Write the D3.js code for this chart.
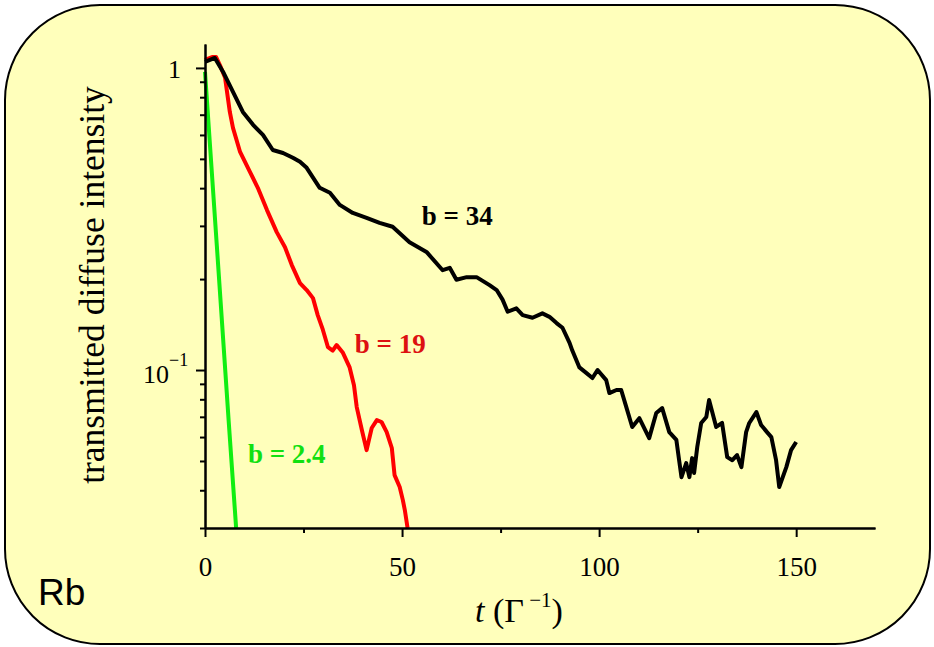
<!DOCTYPE html>
<html>
<head>
<meta charset="utf-8">
<script src="https://cdn.jsdelivr.net/npm/d3@7"></script>
<style>
    body { margin: 0; background: #ffffff; }
    svg { display: block; }
</style>
</head>
<body>
<script>
    // Series values (t in units of 1/Gamma)
    var tBlack = [0, 2.5, 4.6, 7.1, 9.6, 12.2, 14.7, 17.2, 19.8, 22.3, 24.1, 25.8, 29.1, 31.7, 34.2, 37.5, 41.0, 44.3, 47.6, 51.9,
        56.2, 60.3, 62.1, 63.8, 66.4, 68.9, 72.2, 74.0, 75.5, 76.8, 79.0, 80.6, 83.1, 85.6, 87.4, 89.2, 90.7, 92.5, 93.2, 95.0,
        96.8, 98.3, 99.6, 101.8, 102.6, 104.4, 105.6, 106.9, 108.4, 110.2, 112.7, 114.5, 116.0, 117.8, 119.6, 120.3, 120.9, 122.1,
        122.9, 123.6, 124.1, 124.9, 125.9, 127.2, 127.9, 128.7, 129.7, 131.2, 132.5, 133.8, 135.0, 136.1, 137.3, 138.1, 139.9,
        141.1, 142.6, 143.7, 144.9, 145.7, 147.5, 148.7, 150.0];
    var vBlack = [1.047, 1.079, 0.970, 0.833, 0.715, 0.648, 0.600, 0.535, 0.523, 0.504, 0.489, 0.467, 0.401, 0.386, 0.352, 0.331, 0.319, 0.307, 0.298, 0.265,
        0.246, 0.214, 0.218, 0.199, 0.203, 0.203, 0.191, 0.184, 0.171, 0.156, 0.160, 0.152, 0.149, 0.154, 0.150, 0.143, 0.138, 0.123, 0.116, 0.102,
        0.0977, 0.0941, 0.100, 0.0926, 0.0839, 0.0859, 0.0859, 0.0754, 0.0648, 0.0693, 0.0595, 0.0721, 0.0748, 0.0623, 0.0587, 0.0503, 0.0442, 0.0492,
        0.0442, 0.0511, 0.0456, 0.0556, 0.0668, 0.0699, 0.0796, 0.0726, 0.0648, 0.0668, 0.0515, 0.0503, 0.0523, 0.0477, 0.0623, 0.0668, 0.0726,
        0.0658, 0.0623, 0.0600, 0.0503, 0.0410, 0.0477, 0.0543, 0.0578];

    var tRed = [0, 1.8, 2.8, 3.8, 5.1, 6.3, 7.1, 8.9, 11.4, 13.4, 15.7, 18.2, 20.3, 22.0, 24.1, 25.8, 27.4, 28.6, 29.9, 31.2,
        32.4, 33.4, 35.0, 36.7, 37.8, 38.5, 39.8, 41.0, 42.3, 43.6, 44.8, 46.1, 47.4, 48.1, 49.4, 50.2, 50.7, 51.4];
    var vRed = [1.063, 1.087, 1.087, 1.02, 0.927, 0.715, 0.633, 0.527, 0.453, 0.401, 0.339, 0.286, 0.255, 0.223, 0.194, 0.184, 0.173, 0.152, 0.136, 0.119,
        0.116, 0.121, 0.114, 0.102, 0.089, 0.0754, 0.0633, 0.0543, 0.0643, 0.0683, 0.0673, 0.0623, 0.0552, 0.0449, 0.041, 0.0371, 0.0344, 0.030];

    var tGreen = [0, 3, 6, 7.9];
    var vGreen = [0.97, 0.258, 0.068, 0.030];

    var seriesNames = ['b = 34', 'b = 19', 'b = 2.4'];
    var seriesColors = ['#000000', '#ff0000', '#11ee11'];
    var labelColors = ['#000000', '#dd1111', '#11e011'];
    var labelPos = [[55.0, 0.302], [38.0, 0.1138], [10.9, 0.0492]]; // data coords of label start

    // Tick values
    var xMajor = [0, 50, 100, 150];
    var xMinor = [25, 75, 125];
    var yMajor = [1, 0.1];
    var yMinor = [0.9, 0.8, 0.7, 0.6, 0.5, 0.4, 0.3, 0.2, 0.09, 0.08, 0.07, 0.06, 0.05, 0.04, 0.03];

    var width = 934, height = 647;
    var x0 = 205, x1 = 875, yBottom = 528, yTop = 44;

    var svg = d3.select('body').append('svg')
        .attr('width', width)
        .attr('height', height);

    // Rounded panel
    svg.append('rect')
        .attr('x', 5).attr('y', 5)
        .attr('width', 925).attr('height', 639)
        .attr('rx', 95).attr('ry', 95)
        .style('fill', '#ffffbb')
        .style('stroke', '#000')
        .style('stroke-width', 2);

    var xScale = d3.scaleLinear().domain([0, 170]).range([x0, x1]);
    var yScale = d3.scaleLog().domain([0.03, 1.2]).range([yBottom, yTop]);

    // Curves
    var line = d3.line()
        .x(function (d) { return xScale(d[0]); })
        .y(function (d) { return yScale(d[1]); });

    var seriesT = [tBlack, tRed, tGreen];
    var seriesV = [vBlack, vRed, vGreen];

    // draw green first so black sits on top, like the original
    [2, 1, 0].forEach(function (k) {
        var pts = seriesT[k].map(function (t, i) { return [t, seriesV[k][i]]; });
        svg.append('path')
            .attr('d', line(pts))
            .style('fill', 'none')
            .style('stroke', seriesColors[k])
            .style('stroke-width', 4)
            .style('stroke-linejoin', 'round');
    });

    // Axes
    function styleAxis(g) {
        g.select('.domain').style('stroke', '#000').style('stroke-width', 2);
        g.selectAll('.tick line').style('stroke', '#000').style('stroke-width', 2);
    }

    svg.append('g')
        .attr('transform', 'translate(0,' + yBottom + ')')
        .call(d3.axisBottom(xScale).tickValues(xMinor).tickSize(5).tickSizeOuter(0).tickFormat(''))
        .call(styleAxis);

    var xAxis = svg.append('g')
        .attr('transform', 'translate(0,' + yBottom + ')')
        .call(d3.axisBottom(xScale).tickValues(xMajor).tickSize(9).tickSizeOuter(0).tickPadding(20))
        .call(styleAxis);
    xAxis.selectAll('text')
        .style('font-family', '"Liberation Serif", "Times New Roman", serif')
        .style('font-size', '27px')
        .style('fill', '#000');

    svg.append('g')
        .attr('transform', 'translate(' + x0 + ',0)')
        .call(d3.axisLeft(yScale).tickValues(yMinor).tickSize(5).tickSizeOuter(0).tickFormat(''))
        .call(styleAxis);

    var yAxis = svg.append('g')
        .attr('transform', 'translate(' + x0 + ',0)')
        .call(d3.axisLeft(yScale).tickValues(yMajor).tickSize(9).tickSizeOuter(0).tickFormat(''))
        .call(styleAxis);

    // Y tick labels (1 and 10^-1)
    var serif = '"Liberation Serif", "Times New Roman", serif';
    svg.append('text')
        .attr('x', 181).attr('y', yScale(1) + 10)
        .attr('text-anchor', 'end')
        .style('font-family', serif).style('font-size', '26px')
        .text('1');
    var tenth = svg.append('text')
        .attr('x', 143).attr('y', yScale(0.1) + 13)
        .style('font-family', serif).style('font-size', '26px');
    tenth.append('tspan').text('10');
    tenth.append('tspan').attr('dy', -17).style('font-size', '18px').text('\u22121');

    // Axis titles
    svg.append('text')
        .attr('transform', 'translate(104,285) rotate(-90)')
        .attr('text-anchor', 'middle')
        .style('font-family', serif).style('font-size', '35.5px')
        .text('transmitted diffuse intensity');

    var xTitle = svg.append('text')
        .attr('x', 519).attr('y', 622)
        .attr('text-anchor', 'middle')
        .style('font-family', serif).style('font-size', '34px');
    xTitle.append('tspan').style('font-style', 'italic').text('t');
    xTitle.append('tspan').text(' (\u0393');
    xTitle.append('tspan').attr('dy', -15).style('font-size', '21px').text(' \u22121');
    xTitle.append('tspan').attr('dy', 15).text(')');

    // Series labels
    seriesNames.forEach(function (name, k) {
        svg.append('text')
            .attr('x', xScale(labelPos[k][0]))
            .attr('y', yScale(labelPos[k][1]))
            .style('font-family', serif)
            .style('font-size', '27px')
            .style('font-weight', 'bold')
            .style('fill', labelColors[k])
            .text(name);
    });

    // Element label
    svg.append('text')
        .attr('x', 38).attr('y', 605)
        .style('font-family', '"Liberation Sans", Arial, sans-serif')
        .style('font-size', '37px')
        .text('Rb');
</script>
</body>
</html>
